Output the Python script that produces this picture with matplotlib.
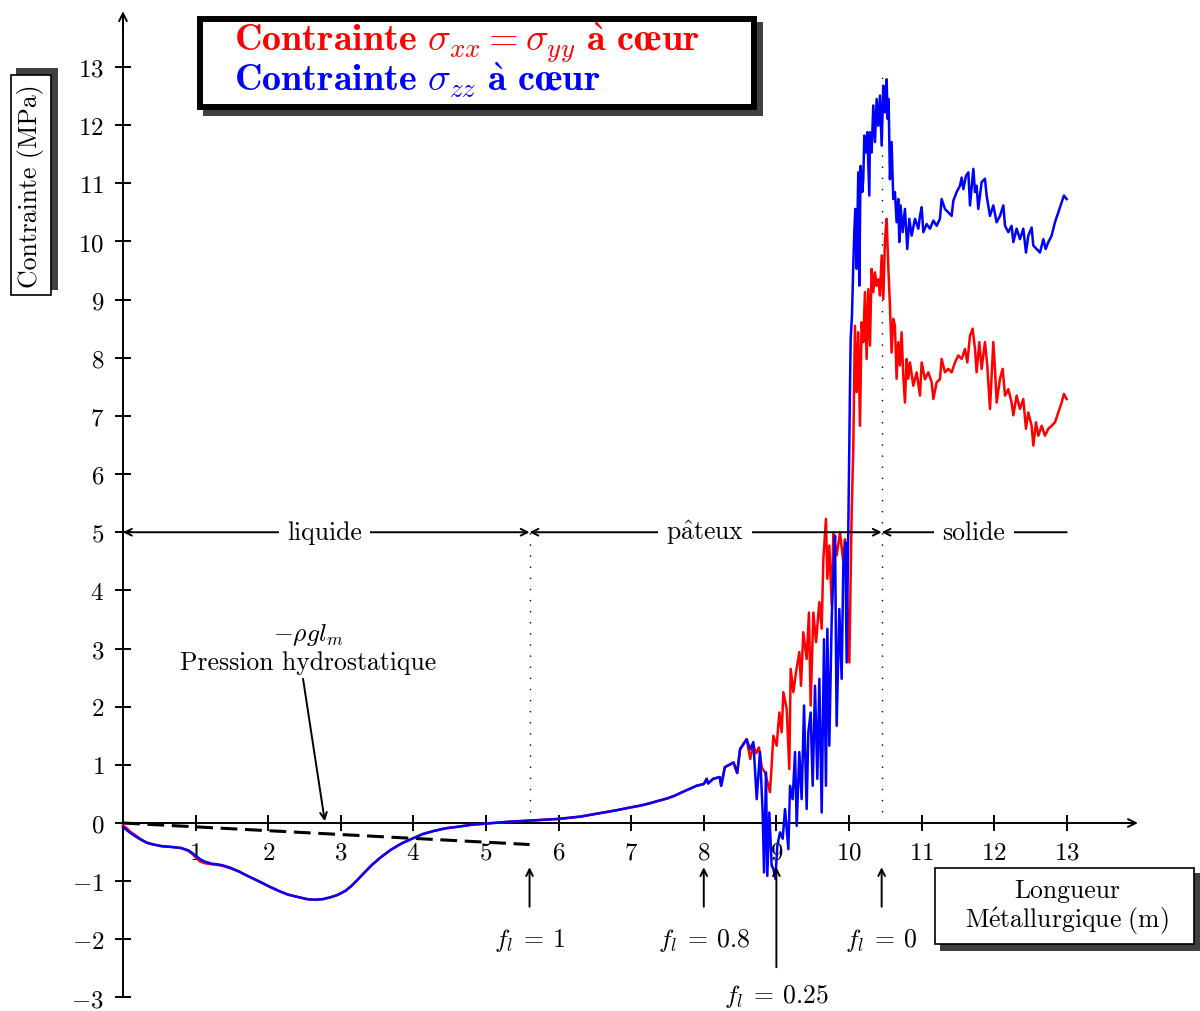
import matplotlib
matplotlib.use("Agg")
import matplotlib.pyplot as plt
from matplotlib.patches import Rectangle

plt.rcParams["mathtext.fontset"] = "cm"
plt.rcParams["font.family"] = ["cmr10", "DejaVu Serif"]
plt.rcParams["axes.unicode_minus"] = False
plt.rcParams["axes.formatter.use_mathtext"] = True

# liquid zone : both stresses nearly identical
x_liq = [0, 0.05, 0.1, 0.17, 0.25, 0.33, 0.42, 0.54, 0.65, 0.8, 0.9, 0.96, 1.06, 1.12,
         1.22, 1.3, 1.38, 1.48, 1.59, 1.7, 1.8, 1.9, 2.01, 2.15, 2.27, 2.4, 2.54, 2.64,
         2.75, 2.85, 2.95, 3.06, 3.14, 3.22, 3.32, 3.43, 3.55, 3.69, 3.84, 4.0, 4.13,
         4.27, 4.45, 4.64, 4.8, 5.0, 5.3, 5.59, 6.0, 6.3, 6.57, 6.8, 7.0, 7.13, 7.26,
         7.37, 7.49, 7.6, 7.72, 7.81, 7.9, 8.0, 8.04, 8.06, 8.13, 8.22, 8.24, 8.29,
         8.41, 8.46, 8.5, 8.59]
y_liq_blue = [-0.07, -0.12, -0.17, -0.23, -0.29, -0.34, -0.37, -0.40, -0.41, -0.43,
              -0.47, -0.52, -0.62, -0.66, -0.70, -0.71, -0.73, -0.77, -0.83, -0.90,
              -0.96, -1.02, -1.09, -1.17, -1.23, -1.27, -1.31, -1.32, -1.31, -1.28,
              -1.24, -1.17, -1.09, -0.99, -0.86, -0.72, -0.59, -0.46, -0.35, -0.26,
              -0.19, -0.14, -0.09, -0.06, -0.03, -0.01, 0.02, 0.04, 0.07, 0.11, 0.17,
              0.22, 0.27, 0.30, 0.34, 0.38, 0.42, 0.47, 0.54, 0.59, 0.64, 0.67, 0.76,
              0.68, 0.76, 0.79, 0.64, 0.96, 1.04, 0.86, 1.27, 1.44]
y_liq_red = [-0.04, -0.09, -0.15, -0.21, -0.28, -0.34, -0.37, -0.40, -0.41, -0.43,
             -0.48, -0.54, -0.66, -0.69, -0.71, -0.72, -0.74, -0.78, -0.83, -0.90,
             -0.96, -1.02, -1.09, -1.17, -1.23, -1.27, -1.31, -1.32, -1.31, -1.28,
             -1.24, -1.17, -1.09, -0.99, -0.86, -0.72, -0.59, -0.46, -0.35, -0.26,
             -0.19, -0.14, -0.09, -0.06, -0.03, -0.01, 0.02, 0.04, 0.07, 0.11, 0.17,
             0.22, 0.27, 0.30, 0.34, 0.38, 0.42, 0.47, 0.54, 0.59, 0.64, 0.67, 0.76,
             0.68, 0.76, 0.79, 0.64, 0.96, 1.04, 0.86, 1.27, 1.44]

# mushy + solid zone, sigma_xx = sigma_yy (red)
x_red = [8.64, 8.68, 8.72, 8.76, 8.80, 8.843, 8.912, 8.935, 8.958, 9.004, 9.041, 9.073,
         9.096, 9.142, 9.178, 9.197, 9.234, 9.270, 9.316, 9.339, 9.371, 9.417, 9.449,
         9.472, 9.509, 9.546, 9.592, 9.624, 9.647, 9.683, 9.702, 9.729, 9.762, 9.785,
         9.830, 9.876, 9.922, 9.945, 10.005, 10.037, 10.059, 10.082, 10.105, 10.128,
         10.151, 10.174, 10.197, 10.220, 10.243, 10.266, 10.289, 10.312, 10.335,
         10.358, 10.381, 10.404, 10.427, 10.450, 10.473, 10.496, 10.519, 10.541,
         10.564, 10.587, 10.610, 10.633, 10.656, 10.679, 10.702, 10.725, 10.748,
         10.771, 10.794, 10.817, 10.840, 10.886, 10.932, 10.978, 11.001, 11.047,
         11.093, 11.139, 11.162, 11.208, 11.253, 11.276, 11.322, 11.368, 11.414,
         11.460, 11.506, 11.552, 11.598, 11.630, 11.667, 11.703, 11.736, 11.758,
         11.795, 11.827, 11.873, 11.905, 11.942, 11.988, 12.011, 12.034, 12.080,
         12.117, 12.149, 12.195, 12.240, 12.264, 12.309, 12.355, 12.401, 12.438,
         12.470, 12.516, 12.539, 12.576, 12.608, 12.654, 12.700, 12.746, 12.791,
         12.837, 12.883, 12.929, 12.961, 12.998]
y_red = [1.10, 1.35, 1.20, 1.30, 0.95, 0.87, 0.53, 0.99, 1.50, 1.33, 1.90, 1.56, 2.25,
         1.96, 0.93, 2.65, 2.25, 2.59, 2.94, 2.36, 3.28, 2.82, 3.62, 2.02, 3.62, 3.11,
         3.80, 3.34, 4.54, 5.23, 4.20, 4.77, 3.74, 5.00, 4.60, 5.00, 4.48, 4.88, 2.76,
         5.34, 6.43, 8.55, 7.41, 8.44, 6.83, 8.61, 8.27, 9.13, 7.98, 9.18, 8.21, 9.53,
         9.13, 9.47, 9.24, 9.35, 9.07, 9.76, 9.01, 10.04, 10.39, 9.58, 8.90, 8.09, 8.67,
         8.55, 7.64, 8.27, 7.87, 8.44, 7.69, 7.23, 7.98, 7.64, 7.92, 7.52, 7.75, 7.35,
         7.92, 7.63, 7.75, 7.58, 7.29, 7.58, 7.63, 7.98, 7.75, 7.81, 7.75, 7.92, 8.04,
         7.98, 8.15, 7.92, 8.38, 8.50, 8.15, 7.75, 8.27, 7.81, 8.27, 7.87, 7.12, 8.27,
         7.81, 7.23, 7.64, 7.81, 7.35, 7.46, 7.23, 7.01, 7.35, 7.12, 7.29, 6.78, 7.06,
         6.83, 6.49, 6.89, 6.66, 6.83, 6.66, 6.78, 6.83, 6.89, 7.06, 7.23, 7.38, 7.29]

# mushy + solid zone, sigma_zz (blue)
x_blue = [8.637, 8.683, 8.729, 8.774, 8.811, 8.830, 8.857, 8.875, 8.903, 8.935, 8.958,
          8.986, 9.013, 9.050, 9.087, 9.119, 9.165, 9.188, 9.224, 9.257, 9.280, 9.316,
          9.348, 9.381, 9.417, 9.440, 9.472, 9.500, 9.532, 9.564, 9.592, 9.624, 9.656,
          9.683, 9.702, 9.729, 9.762, 9.785, 9.808, 9.830, 9.867, 9.899, 9.922, 9.950,
          9.968, 9.991, 10.005, 10.012, 10.023, 10.041, 10.059, 10.073, 10.087, 10.105,
          10.128, 10.142, 10.160, 10.183, 10.197, 10.211, 10.234, 10.252, 10.280,
          10.289, 10.312, 10.335, 10.358, 10.381, 10.404, 10.427, 10.450, 10.473,
          10.496, 10.519, 10.532, 10.546, 10.564, 10.587, 10.610, 10.633, 10.656,
          10.679, 10.693, 10.711, 10.739, 10.771, 10.803, 10.831, 10.863, 10.909,
          10.955, 10.978, 11.001, 11.024, 11.070, 11.116, 11.162, 11.208, 11.253,
          11.276, 11.322, 11.368, 11.414, 11.437, 11.483, 11.529, 11.552, 11.575,
          11.612, 11.644, 11.667, 11.713, 11.736, 11.758, 11.781, 11.827, 11.873,
          11.896, 11.942, 11.988, 12.034, 12.080, 12.126, 12.149, 12.195, 12.240,
          12.264, 12.309, 12.355, 12.401, 12.438, 12.470, 12.516, 12.539, 12.585,
          12.631, 12.677, 12.709, 12.746, 12.791, 12.837, 12.883, 12.929, 12.961,
          12.998]
y_blue = [1.27, 1.39, 0.41, 1.22, 0.18, -0.85, 0.87, -0.91, 0.18, -0.73, -0.79, -0.96,
          -0.39, -0.16, -0.27, 0.24, -0.45, 0.64, 0.41, 1.22, -0.05, 1.22, 0.41, 2.02,
          0.24, 1.56, 1.90, 0.64, 2.36, 0.76, 2.48, 0.18, 3.16, 0.64, 3.34, 1.33, 3.51,
          4.31, 4.94, 1.67, 3.68, 2.48, 4.43, 4.83, 2.76, 5.06, 6.55, 7.32, 8.32, 8.72,
          9.58, 10.16, 10.56, 9.53, 11.19, 9.24, 11.30, 10.85, 11.07, 11.82, 11.53,
          11.88, 10.79, 11.88, 11.53, 12.34, 11.71, 12.45, 11.99, 12.51, 11.65, 12.68,
          12.22, 12.79, 12.11, 12.45, 11.07, 11.71, 10.73, 10.85, 10.33, 10.73, 9.99,
          10.62, 10.16, 10.56, 9.87, 10.39, 10.10, 10.39, 10.22, 10.44, 10.59, 10.16,
          10.30, 10.22, 10.36, 10.27, 10.39, 10.73, 10.56, 10.50, 10.44, 10.70, 10.85,
          10.96, 11.10, 10.90, 11.13, 11.19, 10.62, 11.25, 10.85, 10.96, 10.56, 11.02,
          11.08, 10.79, 10.44, 10.62, 10.33, 10.44, 10.62, 10.27, 10.16, 10.27, 9.99,
          10.22, 10.04, 10.22, 9.81, 10.10, 10.24, 9.93, 9.87, 9.81, 10.04, 9.87, 9.99,
          10.10, 10.33, 10.50, 10.67, 10.79, 10.73]

# hydrostatic pressure -rho g l_m (dashed)
x_hydro = [0.0, 5.6]
y_hydro = [0.0, -0.37]

x_ticks = list(range(1, 14))
y_ticks = list(range(-3, 14))

fl_pos = [5.6, 8.0, 10.45, 9.0]
fl_labels = ["1", "0.8", "0", "0.25"]

W, H = 1200, 1012
FS = 18.5
fig = plt.figure(figsize=(12, 10.12), dpi=100)
ax = fig.add_axes([0, 0, 1, 1])
ax.set_xlim(-1.694, 14.835)
ax.set_ylim(-3.233, 14.170)
ax.patch.set_visible(False)

for s in ["top", "right"]:
    ax.spines[s].set_visible(False)
ax.spines["left"].set_position(("data", 0))
ax.spines["bottom"].set_position(("data", 0))
ax.spines["left"].set_bounds(-3, 13.9)
ax.spines["bottom"].set_bounds(0, 13.9)
ax.spines["left"].set_linewidth(1.4)
ax.spines["bottom"].set_linewidth(1.4)
ax.set_xticks(x_ticks, labels=[f"${t}$" for t in x_ticks])
ax.set_yticks(y_ticks, labels=[f"${t}$" for t in y_ticks])
ax.tick_params(direction="inout", length=11, width=1.4, labelsize=18, pad=8)
ax.annotate("", xy=(13.98, 0), xytext=(13.7, 0),
            arrowprops=dict(arrowstyle="->", lw=1.4, mutation_scale=14,
                            shrinkA=0, shrinkB=0))
ax.annotate("", xy=(0, 13.96), xytext=(0, 13.6),
            arrowprops=dict(arrowstyle="->", lw=1.4, mutation_scale=14,
                            shrinkA=0, shrinkB=0))

# curves
ax.plot(x_liq + x_red, y_liq_red + y_red, color="red", lw=1.8, zorder=3)
ax.plot(x_liq + x_blue, y_liq_blue + y_blue, color="blue", lw=1.8, zorder=3)
ax.plot(x_hydro, y_hydro, color="black", lw=2.2, dashes=(5.5, 2.5), zorder=3)

# dotted limits
ax.plot([5.6, 5.6], [0, 5], color="black", lw=1.0, dashes=(1, 7))
ax.plot([10.45, 10.45], [0, 12.9], color="black", lw=1.0, dashes=(1, 7))

# zones
zone_kw = dict(lw=1.4, mutation_scale=12, shrinkA=0, shrinkB=0)
ax.annotate("", xy=(0, 5), xytext=(5.6, 5), arrowprops=dict(arrowstyle="<->", **zone_kw))
ax.annotate("", xy=(5.6, 5), xytext=(10.45, 5), arrowprops=dict(arrowstyle="<->", **zone_kw))
ax.annotate("", xy=(10.45, 5), xytext=(13, 5), arrowprops=dict(arrowstyle="->", **zone_kw))
box_w = dict(facecolor="white", edgecolor="none", pad=6)
ax.text(2.78, 5, "liquide", ha="center", va="center", fontsize=FS, bbox=box_w, zorder=4)
ax.text(8.02, 5, r"$\mathrm{p\^ateux}$", ha="center", va="center", fontsize=FS,
        bbox=box_w, zorder=4)
ax.text(11.72, 5, "solide", ha="center", va="center", fontsize=FS, bbox=box_w, zorder=4)

# liquid fraction markers
for xp, lab in zip(fl_pos, fl_labels):
    long = lab == "0.25"
    ax.annotate("", xy=(xp, -0.76), xytext=(xp, -2.48 if long else -1.44),
                arrowprops=dict(arrowstyle="->", lw=1.4, mutation_scale=12,
                                shrinkA=0, shrinkB=0))
    ax.text(xp, -2.975 if long else -1.995, rf"$f_l\:=\:{lab}$", ha="center",
            va="center", fontsize=FS)

# hydrostatic annotation
ax.text(2.55, 3.25, r"$-\rho g l_m$", ha="center", va="center", fontsize=FS)
ax.text(2.55, 2.77, "Pression hydrostatique", ha="center", va="center", fontsize=FS)
ax.annotate("", xy=(2.78, 0.03), xytext=(2.48, 2.48),
            arrowprops=dict(arrowstyle="->", lw=1.4, mutation_scale=12,
                            shrinkA=0, shrinkB=0))


def px_rect(x0, y0, x1, y1, **kw):
    r = Rectangle((x0 / W, 1 - y1 / H), (x1 - x0) / W, (y1 - y0) / H,
                  transform=fig.transFigure, **kw)
    fig.add_artist(r)


# legend box
px_rect(203, 23, 763, 117, facecolor="#404040", edgecolor="none")
px_rect(200, 20, 754, 108, facecolor="white", edgecolor="black", lw=4.3)
fig.text(234 / W, 1 - 52 / H,
         r"$\mathbf{Contrainte\ }\sigma_{xx} = \sigma_{yy}\mathbf{\ \`a\ c\oe ur}$",
         color="red", fontsize=27.5, ha="left", va="baseline")
fig.text(234 / W, 1 - 92 / H,
         r"$\mathbf{Contrainte\ }\sigma_{zz}\mathbf{\ \`a\ c\oe ur}$",
         color="blue", fontsize=27.5, ha="left", va="baseline")

# y label box
px_rect(16, 69, 58, 291, facecolor="#404040", edgecolor="none")
px_rect(11, 76, 51, 296, facecolor="white", edgecolor="black", lw=1.2)
fig.text(31 / W, 1 - 186 / H, "Contrainte (MPa)", rotation=90, fontsize=FS,
         ha="center", va="center")

# x label box
px_rect(940, 874, 1201, 952, facecolor="#404040", edgecolor="none")
px_rect(935, 869, 1194, 945, facecolor="white", edgecolor="black", lw=1.2)
fig.text(1067 / W, 1 - 891 / H, "Longueur", fontsize=FS, ha="center", va="center")
fig.text(1067 / W, 1 - 921 / H, r"$\mathrm{M\'etallurgique\ (m)}$", fontsize=FS,
         ha="center", va="center")

fig.savefig("out.png", dpi=100)
